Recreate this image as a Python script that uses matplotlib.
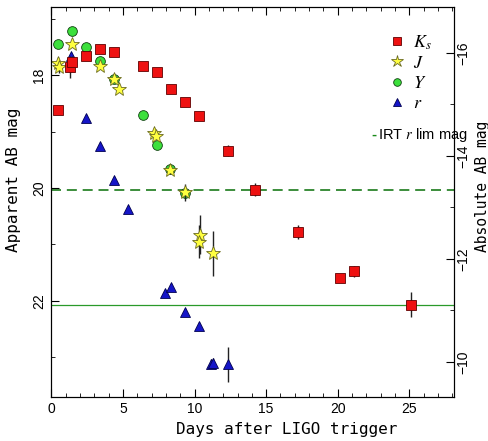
import matplotlib.pyplot as plt
from matplotlib.ticker import MultipleLocator
from matplotlib.lines import Line2D

plt.rcParams['mathtext.fontset'] = 'stix'

# Ks band
ks_day = [0.49, 1.30, 1.42, 2.42, 3.40, 4.40, 6.39, 7.37, 8.37, 9.34, 10.32, 12.30, 14.25, 17.23, 20.18, 21.16, 25.11]
ks_mag = [18.62, 17.85, 17.76, 17.66, 17.53, 17.59, 17.83, 17.94, 18.24, 18.48, 18.73, 19.34, 20.03, 20.78, 21.59, 21.48, 22.07]
ks_err = [0.05, 0.2, 0.1, 0.05, 0.05, 0.05, 0.05, 0.05, 0.05, 0.05, 0.05, 0.1, 0.12, 0.12, 0.05, 0.1, 0.22]

# J band
j_day = [0.45, 0.52, 1.42, 3.40, 4.39, 4.74, 7.18, 7.30, 8.30, 9.34, 10.38, 10.30, 11.32]
j_mag = [17.78, 17.86, 17.44, 17.84, 18.06, 18.25, 19.03, 19.07, 19.68, 20.08, 20.83, 20.95, 21.16]
j_err = [0.1, 0.1, 0.05, 0.05, 0.05, 0.05, 0.05, 0.05, 0.08, 0.15, 0.35, 0.3, 0.4]

# Y band
y_day = [0.49, 1.42, 2.42, 3.40, 4.39, 6.39, 7.37, 8.30, 9.34]
y_mag = [17.44, 17.22, 17.50, 17.75, 18.07, 18.71, 19.24, 19.67, 20.09]

# r band
r_day = [1.37, 2.42, 3.40, 4.39, 5.37, 7.93, 8.35, 9.34, 10.32, 11.12, 11.30, 12.30]
r_mag = [17.66, 18.75, 19.26, 19.85, 20.38, 21.87, 21.75, 22.20, 22.45, 23.12, 23.10, 23.13]
r_err = [0.05, 0.05, 0.05, 0.05, 0.05, 0.05, 0.05, 0.05, 0.05, 0.08, 0.08, 0.31]

lim_dashed = 20.03
lim_solid = 22.07

# marker styles
sty_k = dict(marker='s', ms=6.5, mfc='#ee1111', mec='#600000', mew=0.6)
sty_j = dict(marker='*', ms=10.5, mfc='#ffff40', mec='#6a6a20', mew=0.6)
sty_y = dict(marker='o', ms=7, mfc='#3ce03c', mec='#104010', mew=0.6)
sty_r = dict(marker='^', ms=7.5, mfc='#1515c8', mec='#000050', mew=0.6)

fig = plt.figure(figsize=(4.89, 4.41), dpi=100)
ax = fig.add_axes([0.105, 0.0998, 0.823, 0.884])

# limit lines
ax.axhline(lim_dashed, color='#1a7a1a', lw=1.2, ls=(0, (6, 3.5)), zorder=1)
ax.axhline(lim_solid, color='#2a9a2a', lw=0.9, zorder=1)

ek = dict(ecolor='#222222', elinewidth=1.0, capsize=0, ls='none')
ax.errorbar(r_day, r_mag, yerr=r_err, zorder=2, **sty_r, **ek)
ax.plot(y_day, y_mag, ls='none', zorder=3, **sty_y)
ax.errorbar(j_day, j_mag, yerr=j_err, zorder=4, **sty_j, **ek)
ax.errorbar(ks_day, ks_mag, yerr=ks_err, zorder=5, **sty_k, **ek)

ax.set_xlim(0, 28.1)
ax.set_ylim(23.71, 16.79)

ax.xaxis.set_major_locator(MultipleLocator(5))
ax.xaxis.set_minor_locator(MultipleLocator(1))
ax.yaxis.set_major_locator(MultipleLocator(2))
ax.yaxis.set_minor_locator(MultipleLocator(1))
ax.tick_params(which='both', direction='in', top=True, right=False, labelsize=10)
ax.tick_params(which='major', length=6)
ax.tick_params(which='minor', length=3)
for lab in ax.get_yticklabels():
    lab.set_rotation(90)
    lab.set_va('center')
for lab in ax.get_xticklabels() + ax.get_yticklabels():
    lab.set_family('Liberation Sans')

ax.set_xlabel('Days after LIGO trigger', family='DejaVu Sans Mono', fontsize=11.5)
ax.xaxis.set_label_coords(0.585, -0.065)
ax.set_ylabel('Apparent AB mag', family='DejaVu Sans Mono', fontsize=11.5)
ax.yaxis.set_label_coords(-0.075, 0.556)

ax2 = ax.twinx()
ax2.set_ylim(-9.32, -16.89)
ax2.yaxis.set_major_locator(MultipleLocator(2))
ax2.yaxis.set_minor_locator(MultipleLocator(1))
ax2.tick_params(which='both', direction='in', labelsize=10, pad=2)
ax2.tick_params(which='major', length=6)
ax2.tick_params(which='minor', length=3)
for lab in ax2.get_yticklabels():
    lab.set_rotation(90)
    lab.set_va('center')
    lab.set_family('Liberation Sans')
ax2.set_ylabel('Absolute AB mag', family='DejaVu Sans Mono', fontsize=10.5, rotation=90)
ax2.yaxis.set_label_coords(1.052, 0.54)

handles = [Line2D([], [], ls='none', **{**sty_k, 'ms': 5.5}),
           Line2D([], [], ls='none', **{**sty_j, 'ms': 9}),
           Line2D([], [], ls='none', **{**sty_y, 'ms': 5.5}),
           Line2D([], [], ls='none', **{**sty_r, 'ms': 6})]
ax.legend(handles, ['$K_s$', '$J$', '$Y$', '$r$'],
          loc='upper right', bbox_to_anchor=(0.985, 0.975), frameon=False,
          fontsize=13, handlelength=0.8, handletextpad=0.5, labelspacing=0.12)

ax.text(0.795, 0.672, '-', color='#1a8a1a', fontsize=11, fontweight='bold',
        family='Liberation Sans', transform=ax.transAxes, va='center')
ax.text(0.812, 0.672, 'IRT $\\it{r}$ lim mag', fontsize=10.5, family='Liberation Sans',
        transform=ax.transAxes, va='center')

fig.savefig('out.png', dpi=100)
